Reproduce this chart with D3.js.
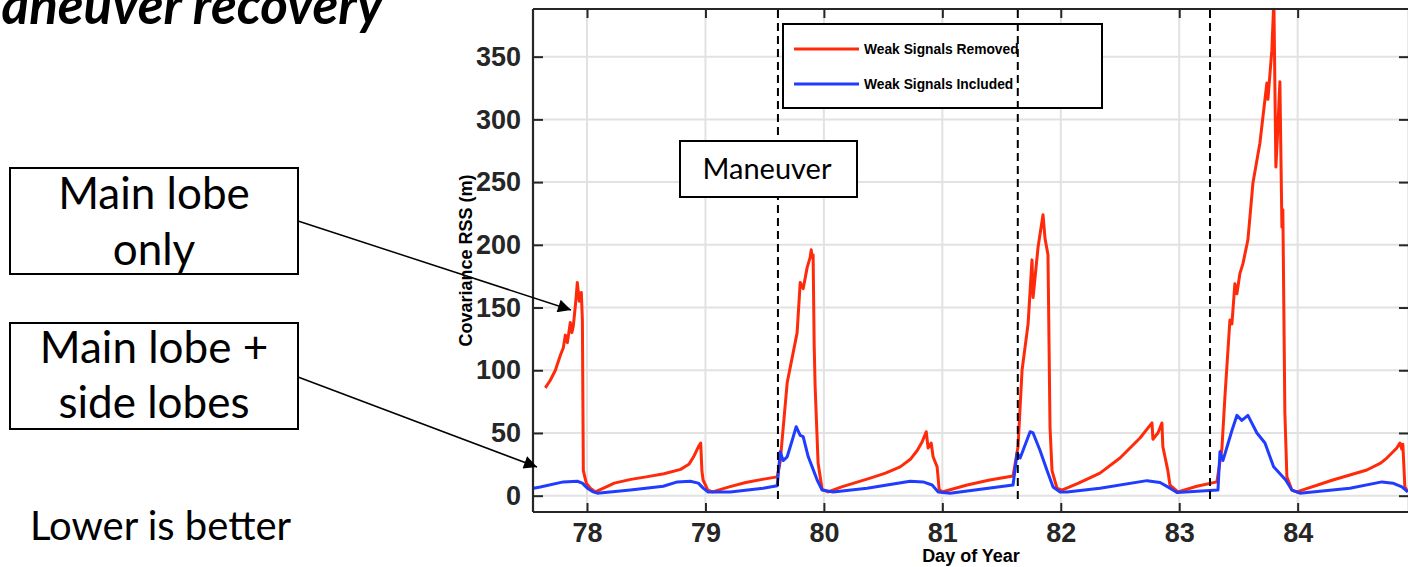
<!DOCTYPE html>
<html>
<head>
<meta charset="utf-8">
<script src="https://d3js.org/d3.v7.min.js"></script>
<style>
  body { margin: 0; background: #fff; }
  svg { display: block; }
  .tick-label { font: bold 27px "Liberation Sans", Arial, sans-serif; fill: #262626; }
  .axis-title { font-family: "Liberation Sans", Arial, sans-serif; font-weight: bold; fill: #000; }
  .note { font-family: Lato, "Open Sans", sans-serif; fill: #000; }
</style>
</head>
<body>
<svg width="1408" height="567"></svg>
<script>
// day of year ticks and value ticks
var xTicks = [78, 79, 80, 81, 82, 83, 84]
var yTicks = [0, 50, 100, 150, 200, 250, 300, 350]
var maneuverDays = [79.612, 81.637, 83.26]
var seriesNames = ["Weak Signals Removed", "Weak Signals Included"]

// Weak Signals Removed (red)
var redDays = [77.648, 77.690, 77.733, 77.775, 77.800, 77.817, 77.834, 77.859, 77.872, 77.884, 77.900, 77.910, 77.918, 77.935, 77.952, 77.961, 77.969,
  77.994, 78.028, 78.070, 78.140, 78.230, 78.370, 78.500, 78.650, 78.790, 78.860, 78.900, 78.940, 78.960, 78.970, 78.980, 79.020, 79.060, 79.200, 79.340, 79.480, 79.606,
  79.631, 79.690, 79.774, 79.800, 79.825, 79.859, 79.884, 79.893, 79.901, 79.909, 79.918, 79.926, 79.951, 79.985, 80.036,
  80.150, 80.391, 80.520, 80.644, 80.730, 80.788, 80.830, 80.864, 80.880, 80.906, 80.922, 80.956, 80.973, 80.998, 81.209, 81.400, 81.597,
  81.639, 81.673, 81.724, 81.757, 81.766, 81.808, 81.850, 81.867, 81.892, 81.909, 81.926, 81.968, 82.010,
  82.150, 82.331, 82.500, 82.669, 82.770, 82.778, 82.820, 82.854, 82.862, 82.904, 82.922, 82.989, 83.150, 83.318,
  83.360, 83.386, 83.428, 83.445, 83.470, 83.487, 83.512, 83.538, 83.580, 83.622, 83.681, 83.740, 83.749, 83.782, 83.799,
  83.816, 83.833, 83.850, 83.867, 83.875, 83.892, 83.909, 83.951, 83.993,
  84.297, 84.584, 84.700, 84.753, 84.837, 84.863, 84.880, 84.888, 84.905, 84.930]
var redVals = [86, 92, 100, 112, 118, 128, 122, 138, 130, 135, 150, 160, 170, 155, 162, 140, 20,
  10, 6, 3, 6, 10, 13, 15, 17.5, 21, 25, 31, 39, 42, 20, 12.5, 4.5, 3, 7, 10.5, 13, 15,
  27, 90, 130, 170, 165, 182, 190, 196, 190, 192, 120, 87, 26, 5, 3,
  7, 14, 18, 23, 29, 36, 43, 51, 38, 42, 31, 23, 5, 3, 8.5, 12.5, 15.7,
  39, 100, 137, 188, 158, 198, 224, 205, 192, 55, 20, 6, 4.5,
  10, 18, 30, 46, 58, 45, 50, 58, 39, 20, 8.5, 3, 7.5, 11,
  37, 79, 140, 137, 169, 161, 177, 185, 204, 249, 281, 329, 316, 355, 395,
  262, 294, 330, 214, 228, 66, 15, 4.5, 3,
  12.5, 20.5, 26, 30, 38, 42, 37, 41, 7, 3]

// Weak Signals Included (blue)
var blueDays = [77.547, 77.606, 77.800, 77.918, 77.960, 78.003, 78.053, 78.087, 78.366, 78.644, 78.763, 78.872, 78.940, 78.981, 79.023, 79.209, 79.487, 79.606,
  79.631, 79.656, 79.690, 79.732, 79.766, 79.800, 79.825, 79.868, 79.901, 79.943, 79.985, 80.078,
  80.365, 80.728, 80.838, 80.914, 80.965, 81.066, 81.597,
  81.631, 81.657, 81.741, 81.766, 81.825, 81.884, 81.935, 81.994, 82.053,
  82.331, 82.728, 82.838, 82.922, 82.981, 83.327,
  83.344, 83.369, 83.445, 83.487, 83.529, 83.580, 83.656, 83.724, 83.797, 83.899, 83.951, 84.019,
  84.441, 84.711, 84.804, 84.880, 84.930]
var blueVals = [6, 7, 11, 11.5, 10, 6, 3, 2, 4.5, 7.5, 11, 11.5, 10, 6, 3, 3, 6, 8,
  35, 28, 31, 44, 55, 48, 47, 31, 23, 12.5, 4.5, 3,
  6, 11.5, 11, 8.5, 3, 2, 8.5,
  34, 30, 51, 50, 36, 20, 7, 3, 3,
  6, 12, 10.5, 6, 2.5, 4.5,
  35, 28, 52, 64, 60, 64, 50, 42, 23, 12.5, 4.5, 2,
  6, 11, 10, 7, 3]

var svg = d3.select("svg")
var plotL = 533, plotR = 1409, plotT = 9, plotB = 512

var x = d3.scaleLinear().domain([77.544, 84.94]).range([plotL, plotR])
var y = d3.scaleLinear().domain([-13, 388]).range([plotB, plotT])

var defs = svg.append("defs")
defs.append("clipPath").attr("id", "clip")
  .append("rect").attr("x", plotL).attr("y", plotT)
  .attr("width", plotR - plotL).attr("height", plotB - plotT)

// grid
var grid = svg.append("g")
grid.selectAll(".gx").data(xTicks).enter().append("line")
  .attr("x1", d => x(d)).attr("x2", d => x(d))
  .attr("y1", plotT).attr("y2", plotB)
  .attr("stroke", "#e2e2e2").attr("stroke-width", 2)
grid.selectAll(".gy").data(yTicks).enter().append("line")
  .attr("x1", plotL).attr("x2", plotR)
  .attr("y1", d => y(d)).attr("y2", d => y(d))
  .attr("stroke", "#e2e2e2").attr("stroke-width", 2)

// series
var redData = redDays.map((d, i) => [d, redVals[i]])
var blueData = blueDays.map((d, i) => [d, blueVals[i]])
var line = d3.line().x(d => x(d[0])).y(d => y(d[1]))

var plot = svg.append("g").attr("clip-path", "url(#clip)")
plot.append("path").datum(redData).attr("d", line)
  .attr("fill", "none").attr("stroke", "#ff2a0a").attr("stroke-width", 3).attr("stroke-linejoin", "round")
plot.append("path").datum(blueData).attr("d", line)
  .attr("fill", "none").attr("stroke", "#1f3cff").attr("stroke-width", 3).attr("stroke-linejoin", "round")

// axes with inward ticks on all four sides
var axisColor = "#262626"
var axB = svg.append("g").attr("transform", "translate(0," + plotB + ")")
  .call(d3.axisBottom(x).tickValues(xTicks).tickSize(-9).tickPadding(11).tickFormat(d3.format("d")))
var axL = svg.append("g").attr("transform", "translate(" + plotL + ",0)")
  .call(d3.axisLeft(y).tickValues(yTicks).tickSize(-10).tickPadding(12))
var axT = svg.append("g").attr("transform", "translate(0," + plotT + ")")
  .call(d3.axisTop(x).tickValues(xTicks).tickSize(-9).tickFormat(""))
var axR = svg.append("g").attr("transform", "translate(" + plotR + ",0)")
  .call(d3.axisRight(y).tickValues(yTicks).tickSize(-10).tickFormat(""))

svg.selectAll(".domain").attr("stroke", axisColor).attr("stroke-width", 2.2)
svg.selectAll(".tick line").attr("stroke", axisColor).attr("stroke-width", 2)
svg.selectAll(".tick text").attr("class", "tick-label").attr("font-family", null).attr("font-size", null)
axB.selectAll(".domain").attr("d", "M" + plotL + ",0H" + plotR)
axT.selectAll(".domain").attr("d", "M" + plotL + ",0H" + plotR)
axL.selectAll(".domain").attr("d", "M0," + plotT + "V" + plotB)
axR.selectAll(".domain").attr("d", "M0," + plotT + "V" + plotB)

svg.append("text").attr("class", "axis-title")
  .attr("x", (plotL + plotR) / 2).attr("y", 562)
  .attr("text-anchor", "middle").attr("font-size", 18)
  .text("Day of Year")
svg.append("text").attr("class", "axis-title")
  .attr("transform", "translate(472," + (plotT + plotB) / 2 + ") rotate(-90)")
  .attr("text-anchor", "middle").attr("font-size", 18)
  .text("Covariance RSS (m)")

// legend
var lg = svg.append("g")
lg.append("rect").attr("x", 783).attr("y", 24).attr("width", 319).attr("height", 84)
  .attr("fill", "#fff").attr("stroke", "#000").attr("stroke-width", 2)
var legendColors = ["#ff2a0a", "#1f3cff"]
seriesNames.forEach((name, i) => {
  var ly = 49 + i * 35
  lg.append("line").attr("x1", 794).attr("x2", 859).attr("y1", ly).attr("y2", ly)
    .attr("stroke", legendColors[i]).attr("stroke-width", 3)
  lg.append("text").attr("class", "axis-title").attr("x", 864).attr("y", ly + 5)
    .attr("font-size", 13.8).attr("fill", "#262626").text(name)
})

// maneuver markers
svg.selectAll(".man").data(maneuverDays).enter().append("line")
  .attr("x1", d => x(d)).attr("x2", d => x(d))
  .attr("y1", plotT + 1).attr("y2", y(-6))
  .attr("stroke", "#000").attr("stroke-width", 2).attr("stroke-dasharray", "8,5")

// annotations
function box(x0, y0, w, h) {
  svg.append("rect").attr("x", x0).attr("y", y0).attr("width", w).attr("height", h)
    .attr("fill", "#fff").attr("stroke", "#000").attr("stroke-width", 2)
}
box(680, 141, 177, 56)
svg.append("text").attr("class", "note").attr("x", 767).attr("y", 179)
  .attr("text-anchor", "middle").attr("font-size", 29).text("Maneuver")

box(10, 168, 288, 106)
box(10, 323, 288, 106)
var notes = [["Main lobe", 209], ["only", 265], ["Main lobe +", 363], ["side lobes", 418]]
notes.forEach(n => {
  svg.append("text").attr("class", "note").attr("x", 154).attr("y", n[1])
    .attr("text-anchor", "middle").attr("font-size", 44).text(n[0])
})
svg.append("text").attr("class", "note").attr("x", 30).attr("y", 540)
  .attr("font-size", 40).text("Lower is better")

svg.append("text").attr("class", "note").attr("x", 383).attr("y", 24)
  .attr("text-anchor", "end").attr("font-size", 53).attr("font-weight", "bold").attr("font-style", "italic")
  .text("Maneuver recovery")

defs.append("marker").attr("id", "arrow")
  .attr("viewBox", "0 0 10 10").attr("refX", 10).attr("refY", 5)
  .attr("markerWidth", 18).attr("markerHeight", 13).attr("markerUnits", "userSpaceOnUse")
  .attr("orient", "auto")
  .append("path").attr("d", "M0,0L10,5L0,10Z").attr("fill", "#000")

var arrows = [[298, 221, 571, 310], [298, 377, 537, 467]]
arrows.forEach(a => {
  svg.append("line").attr("x1", a[0]).attr("y1", a[1]).attr("x2", a[2]).attr("y2", a[3])
    .attr("stroke", "#000").attr("stroke-width", 1.5).attr("marker-end", "url(#arrow)")
})
</script>
</body>
</html>
